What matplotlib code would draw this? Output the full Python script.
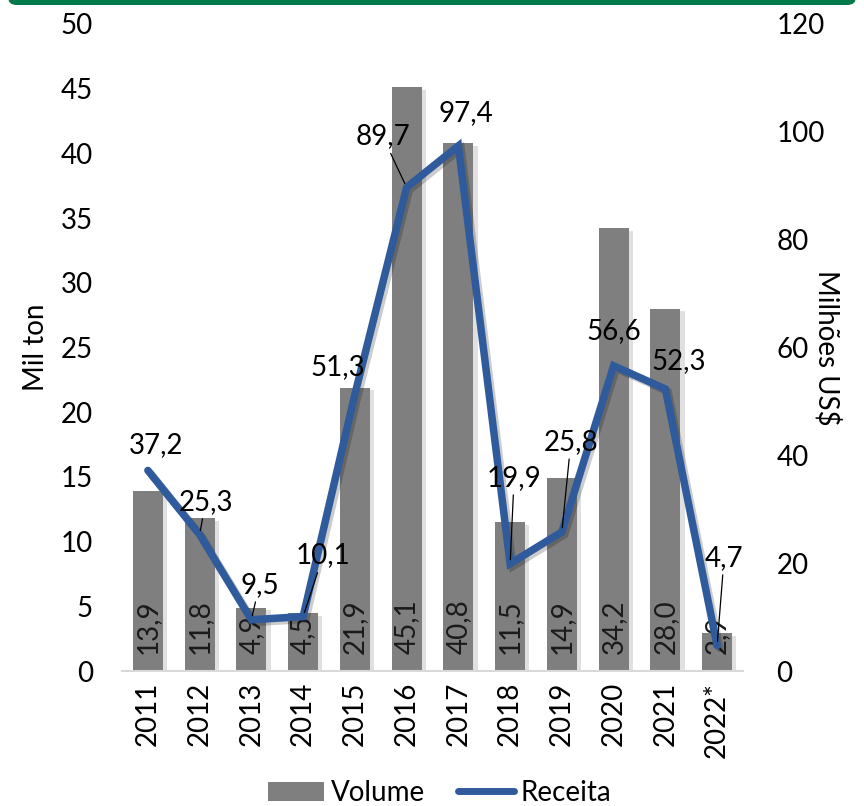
import matplotlib
matplotlib.use("Agg")
import matplotlib.pyplot as plt
import matplotlib.patheffects as pe
from matplotlib.patches import FancyBboxPatch, Patch
from matplotlib.lines import Line2D

plt.rcParams['font.family'] = ['Lato', 'DejaVu Sans']

# dados
anos = ['2011', '2012', '2013', '2014', '2015', '2016', '2017', '2018',
        '2019', '2020', '2021', '2022*']
volume = [13.9, 11.8, 4.9, 4.5, 21.9, 45.1, 40.8, 11.5, 14.9, 34.2, 28.0, 2.9]
receita = [37.2, 25.3, 9.5, 10.1, 51.3, 89.7, 97.4, 19.9, 25.8, 56.6, 52.3, 4.7]

# posição das etiquetas da receita (pixels) e quais têm linha guia
offsets_receita = [(8, 25), (6, 33), (8, 35), (20, 61), (-17, 27), (-24, 51),
                   (7, 33), (4, 86), (9, 90), (0, 35), (13, 28), (7, 88)]
com_guia = [1, 2, 3, 5, 7, 8, 11]

def fmt(v):
    return f"{v:.1f}".replace('.', ',')

cor_barra = '#7F7F7F'
cor_linha = '#2F5A9B'
fs = 20

fig = plt.figure(figsize=(8.64, 8.06), dpi=100)
ax = fig.add_axes([122 / 864, 135 / 806, 621 / 864, 647 / 806])
ax2 = ax.twinx()

x = list(range(len(anos)))
sombra = [pe.SimplePatchShadow(offset=(3, -2), shadow_rgbFace='#000000', alpha=0.12), pe.Normal()]
barras = ax.bar(x, volume, width=0.58, color=cor_barra, zorder=2)
for b in barras:
    b.set_path_effects(sombra)

for xi, v in zip(x, volume):
    ax.annotate(fmt(v), (xi, 0), xytext=(0, 17), textcoords='offset pixels',
                rotation=90, ha='center', va='bottom', fontsize=fs, color='#1A1A1A', zorder=3)

ax2.plot(x, receita, color=cor_linha, lw=5.4, solid_joinstyle='miter', solid_capstyle='round',
         zorder=4, path_effects=[pe.SimpleLineShadow(offset=(2, -2), alpha=0.2), pe.Normal()])

for i, (xi, v) in enumerate(zip(x, receita)):
    dx, dy = offsets_receita[i]
    props = None
    if i in com_guia:
        props = dict(arrowstyle='-', color='black', lw=0.9, shrinkA=1, shrinkB=3)
    ax2.annotate(fmt(v), (xi, v), xytext=(dx, dy), textcoords='offset pixels',
                 ha='center', va='center', fontsize=fs, color='black',
                 arrowprops=props, zorder=5)

ax.set_xlim(-0.5, len(anos) - 0.5)
ax.set_ylim(0, 50)
ax2.set_ylim(0, 120)
ax.set_yticks(range(0, 51, 5))
ax2.set_yticks(range(0, 121, 20))
ax.set_xticks(x)
ax.set_xticklabels(anos, rotation=90, fontsize=fs)
ax.tick_params(axis='y', labelsize=fs, length=0, pad=21)
ax2.tick_params(axis='y', labelsize=fs, length=0, pad=24)
ax.tick_params(axis='x', length=0, pad=8)

for a in (ax, ax2):
    for s in ['top', 'left', 'right']:
        a.spines[s].set_visible(False)
ax2.spines['bottom'].set_visible(False)
ax.spines['bottom'].set_color('#D9D9D9')
ax.spines['bottom'].set_linewidth(1.5)

ax.set_ylabel('Mil ton', fontsize=fs, labelpad=8)
ax2.set_ylabel('Milhões US$', fontsize=fs, rotation=270, labelpad=12)

handles = [Patch(facecolor=cor_barra, label='Volume'),
           Line2D([0], [0], color=cor_linha, lw=5, solid_capstyle='round', label='Receita')]
fig.legend(handles=handles, loc='center', bbox_to_anchor=(440 / 864, 13 / 806), ncol=2,
           frameon=False, fontsize=fs, handlelength=2.0, handletextpad=0.25, columnspacing=1.2)

# faixa verde no topo
fig.patches.append(FancyBboxPatch((8 / 864, 801 / 806), 848 / 864, 0.1,
                                  boxstyle='round,pad=0,rounding_size=0.01',
                                  transform=fig.transFigure, facecolor='#00794A',
                                  edgecolor='none', figure=fig))

fig.savefig('out.png', dpi=100)
